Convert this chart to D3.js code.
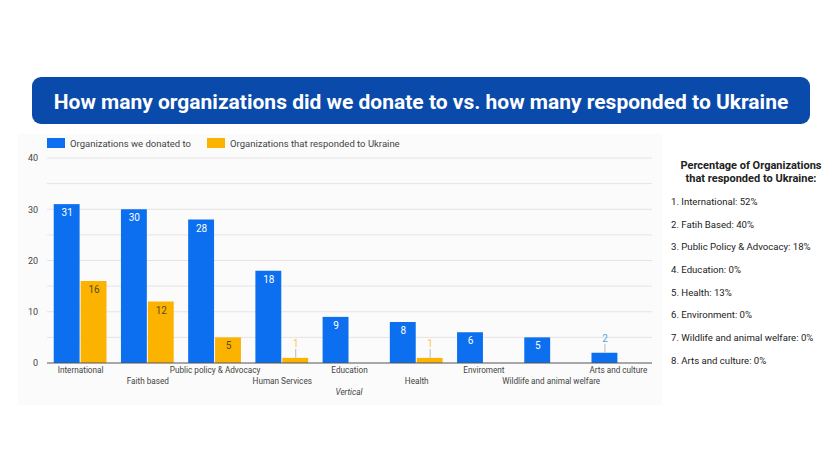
<!DOCTYPE html>
<html>
<head>
<meta charset="utf-8">
<script src="https://cdn.jsdelivr.net/npm/d3@7"></script>
<style>
  body { margin: 0; background: #fff; }
  text { font-family: Roboto, "Noto Sans", sans-serif; }
</style>
</head>
<body>
<div id="chart"></div>
<script>
const categories = ["International", "Faith based", "Public policy & Advocacy", "Human Services",
  "Education", "Health", "Enviroment", "Wildlife and animal welfare", "Arts and culture"];
const donated = [31, 30, 28, 18, 9, 8, 6, 5, 2];
const responded = [16, 12, 5, 1, 0, 1, 0, 0, 0];
const seriesNames = ["Organizations we donated to", "Organizations that responded to Ukraine"];
const yTicks = [0, 10, 20, 30, 40];
const panelTitle = ["Percentage of Organizations", "that responded to Ukraine:"];
const panelItems = ["1. International: 52%", "2. Fatih Based: 40%", "3. Public Policy & Advocacy: 18%",
  "4. Education: 0%", "5. Health: 13%", "6. Environment: 0%", "7. Wildlife and animal welfare: 0%",
  "8. Arts and culture: 0%"];

const W = 832, H = 468;
const colors = ["#0b6ff0", "#fbb300"];

const svg = d3.select("#chart").append("svg")
  .attr("width", W).attr("height", H);

// header box
svg.append("rect")
  .attr("x", 32).attr("y", 77).attr("width", 778).attr("height", 47)
  .attr("rx", 9).attr("fill", "#0a4aab");
svg.append("text")
  .attr("x", 421).attr("y", 108.5)
  .attr("text-anchor", "middle")
  .attr("fill", "#fff")
  .attr("font-size", 21)
  .attr("font-weight", 700)
  .text("How many organizations did we donate to vs. how many responded to Ukraine");

// faint chart background
svg.append("rect")
  .attr("x", 18).attr("y", 134).attr("width", 644).attr("height", 271)
  .attr("fill", "#fbfbfb");

const x0 = d3.scaleBand().domain(categories).range([47, 652]).paddingInner(0.2).paddingOuter(0.1);
const x1 = d3.scaleBand().domain([0, 1]).range([0, x0.bandwidth()]);
const y = d3.scaleLinear().domain([0, 40]).range([363, 158]);

// gridlines, including minor ones
const g = svg.append("g");
g.selectAll("line.grid")
  .data(d3.range(5, 41, 5))
  .enter().append("line")
  .attr("x1", 47).attr("x2", 652)
  .attr("y1", d => y(d)).attr("y2", d => y(d))
  .attr("stroke", "#e4e4e4").attr("stroke-width", 1);

// y axis
const yAxis = svg.append("g")
  .attr("transform", "translate(47,0)")
  .call(d3.axisLeft(y).tickValues(yTicks).tickSize(0).tickPadding(9));
yAxis.select(".domain").remove();
yAxis.selectAll("text").attr("font-size", 9).attr("fill", "#444")
  .style("font-family", "Roboto, sans-serif");

// bars
const series = [donated, responded];
series.forEach((vals, s) => {
  g.selectAll("rect.s" + s)
    .data(categories)
    .enter().append("rect")
    .attr("x", d => x0(d) + x1(s))
    .attr("width", x1.bandwidth() - 1)
    .attr("y", (d, i) => y(vals[i]))
    .attr("height", (d, i) => y(0) - y(vals[i]))
    .attr("fill", colors[s]);
});

// data labels
series.forEach((vals, s) => {
  categories.forEach((c, i) => {
    const v = vals[i];
    if (v === 0) return;
    const cx = x0(c) + x1(s) + x1.bandwidth() / 2;
    if (v <= 2) {
      g.append("line")
        .attr("x1", cx).attr("x2", cx)
        .attr("y1", y(v) - 9).attr("y2", y(v))
        .attr("stroke", "#bbb");
      g.append("text")
        .attr("x", cx).attr("y", y(v) - 11)
        .attr("text-anchor", "middle").attr("font-size", 10)
        .attr("fill", s === 0 ? "#5a9cf2" : "#fcc84a")
        .text(v);
    } else {
      g.append("text")
        .attr("x", cx).attr("y", y(v) + 12)
        .attr("text-anchor", "middle").attr("font-size", 10)
        .attr("fill", s === 0 ? "#fff" : "#5a4a20")
        .text(v);
    }
  });
});

// baseline
svg.append("line")
  .attr("x1", 47).attr("x2", 652).attr("y1", y(0)).attr("y2", y(0))
  .attr("stroke", "#555").attr("stroke-width", 1);

// staggered category labels
svg.selectAll("text.cat")
  .data(categories)
  .enter().append("text")
  .attr("class", "cat")
  .attr("x", d => x0(d) + x0.bandwidth() / 2)
  .attr("y", (d, i) => i % 2 === 0 ? 373 : 384)
  .attr("text-anchor", "middle")
  .attr("font-size", 8.2)
  .attr("fill", "#444")
  .text(d => d);

svg.append("text")
  .attr("x", 349).attr("y", 395)
  .attr("text-anchor", "middle")
  .attr("font-size", 8.2).attr("font-style", "italic")
  .attr("fill", "#444")
  .text("Vertical");

// legend
const legend = svg.append("g");
const legendX = [47, 207];
seriesNames.forEach((n, i) => {
  legend.append("rect")
    .attr("x", legendX[i]).attr("y", 138).attr("width", 18).attr("height", 10)
    .attr("fill", colors[i]);
  legend.append("text")
    .attr("x", legendX[i] + 23).attr("y", 146.5)
    .attr("font-size", 9.5).attr("fill", "#444")
    .text(n);
});

// right side panel
const panel = svg.append("g");
panelTitle.forEach((t, i) => {
  panel.append("text")
    .attr("x", 751).attr("y", 169 + i * 13)
    .attr("text-anchor", "middle")
    .attr("font-size", 11).attr("font-weight", 700)
    .attr("fill", "#222")
    .text(t);
});
panel.selectAll("text.item")
  .data(panelItems)
  .enter().append("text")
  .attr("class", "item")
  .attr("x", 671)
  .attr("y", (d, i) => 205 + i * 22.65)
  .attr("font-size", 9.6)
  .attr("fill", "#222")
  .text(d => d);
</script>
</body>
</html>
